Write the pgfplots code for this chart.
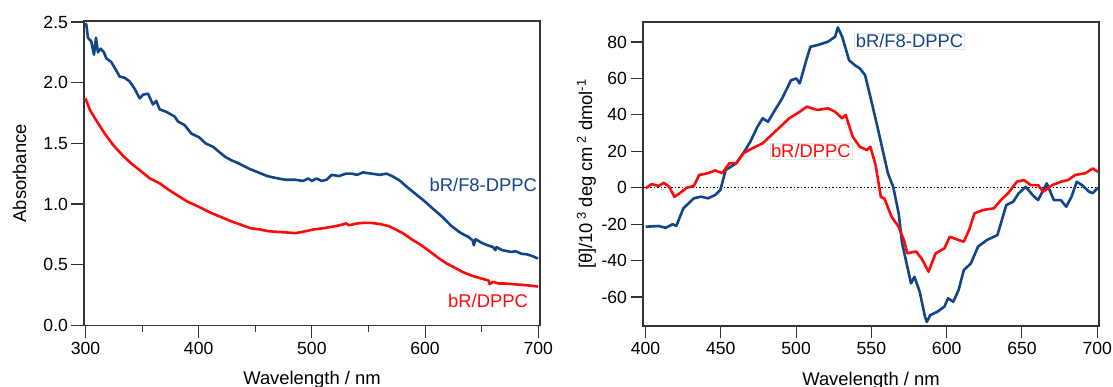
\documentclass[border=0pt]{standalone}
\usepackage{fontspec}
\setmainfont{Liberation Sans}
\usepackage{pgfplots}
\pgfplotsset{compat=1.18}
\definecolor{cblue}{RGB}{18,68,136}
\definecolor{cred}{RGB}{255,10,10}
\begin{document}
\begin{tikzpicture}
\path[use as bounding box] (0pt,0pt) rectangle (1113pt,387pt);
\pgfplotsset{
  myaxis/.style={
    scale only axis,
    axis line style={black!80, line width=1.1pt},
    every tick/.style={black!80, line width=1.1pt},
    tick align=outside,
    xtick pos=left, ytick pos=left,
    major tick length=12.5pt,
    minor tick length=6.5pt,
    /pgf/number format/assume math mode=true,
    tick label style={font=\fontsize{17.6}{20}\selectfont},
    label style={font=\fontsize{18.4}{21}\selectfont},
    xlabel style={at={(axis description cs:0.5,0)}, anchor=base, yshift=-59.3pt},
    every axis plot/.append style={line join=round},
  }
}
% Left: absorbance
\begin{axis}[myaxis,
  at={(84pt,61.3pt)}, anchor=south west,
  width=456pt, height=304.7pt,
  xmin=298.7, xmax=701.5, ymin=-0.003, ymax=2.508,
  xtick={300,400,500,600,700}, minor xtick={350,450,550,650},
  ytick={0,0.5,1,1.5,2,2.5},
  yticklabel style={/pgf/number format/.cd, fixed, fixed zerofill, precision=1},
  xlabel={Wavelength / nm},
  ylabel={Absorbance},
  ylabel style={at={(axis description cs:-0.1412,0.5)}, anchor=center},
]
\addplot[cblue, line width=2.6pt] coordinates {
(300,2.49)(300.7,2.48)(302.2,2.37)(305.1,2.34)(307.5,2.23)(309.3,2.37)(311,2.25)(313.4,2.28)(316.3,2.25)(318.4,2.20)(322.8,2.17)(327.2,2.10)(330.2,2.05)(334.6,2.04)(339,2.01)(343.4,1.95)(347.9,1.87)(350.8,1.90)(355.2,1.91)(359.6,1.82)(362.5,1.85)(365.5,1.78)(371.4,1.76)(378.8,1.72)(381.7,1.68)(387.6,1.65)(393.5,1.58)(400.4,1.55)(406,1.50)(413,1.47)(418,1.43)(423.2,1.39)(428.9,1.36)(435,1.336)(444.7,1.29)(452.7,1.26)(460.6,1.23)(470.3,1.21)(476.4,1.20)(485.1,1.20)(492.2,1.19)(496.8,1.21)(500,1.19)(504,1.21)(508.7,1.19)(513,1.20)(517.5,1.24)(524,1.23)(530,1.25)(535.2,1.25)(540,1.24)(545,1.26)(552.8,1.25)(560,1.24)(566,1.25)(571.9,1.225)(578,1.19)(584,1.14)(592,1.08)(599.9,1.02)(607,0.96)(615.7,0.89)(623,0.82)(631.6,0.76)(638,0.73)(642,0.70)(643,0.66)(644.5,0.71)(650,0.68)(655,0.66)(660,0.645)(662,0.62)(663,0.645)(668,0.62)(675.9,0.605)(680,0.61)(685,0.59)(690,0.585)(695,0.57)(699.7,0.55)
};
\addplot[cred, line width=2.6pt] coordinates {
(300,1.87)(303.7,1.78)(308.1,1.71)(317,1.58)(325,1.48)(333.9,1.39)(341,1.33)(349.7,1.265)(357,1.21)(365.6,1.17)(373,1.12)(381.4,1.07)(390,1.02)(400.4,0.976)(410,0.93)(419.4,0.894)(428,0.86)(438.4,0.825)(446,0.80)(454.2,0.79)(462,0.775)(470.1,0.77)(478,0.765)(485.9,0.76)(494,0.775)(501.7,0.79)(510,0.80)(520.7,0.817)(527,0.83)(530,0.84)(533,0.825)(539.7,0.839)(546,0.845)(552.4,0.844)(560,0.835)(568.2,0.817)(574,0.79)(580.9,0.756)(588,0.71)(596.7,0.66)(604,0.61)(612.6,0.55)(619,0.51)(625.2,0.48)(633,0.44)(641.1,0.41)(650,0.385)(656,0.37)(657,0.34)(660,0.358)(665,0.345)(670,0.345)(679.1,0.338)(690,0.33)(699.7,0.32)
};
\node[cblue, anchor=east, inner sep=0pt, font=\fontsize{18.4}{21}\selectfont] at (axis cs:699,1.16) {bR/F8-DPPC};
\node[cred, anchor=east, inner sep=0pt, font=\fontsize{18.4}{21}\selectfont] at (axis cs:691,0.198) {bR/DPPC};
\end{axis}
% Right: CD
\begin{axis}[myaxis,
  at={(643pt,61pt)}, anchor=south west,
  width=456pt, height=304pt,
  xmin=398.3, xmax=701.2, ymin=-75.9, ymax=91,
  xtick={400,450,500,550,600,650,700},
  ytick={-60,-40,-20,0,20,40,60,80},
  xlabel={Wavelength / nm},
  ylabel={[θ]/10\,\textsuperscript{3} deg cm\,\textsuperscript{2} dmol\textsuperscript{-1}},
  ylabel style={at={(axis description cs:-0.1239,0.5)}, anchor=center},
]
\addplot[black, line width=1.1pt, dash pattern=on 1.5pt off 2pt] coordinates {(398.3,0)(701.2,0)};
\addplot[cblue, line width=2.6pt] coordinates {
(400,-21.4)(408.7,-21)(413.4,-22)(418,-20)(420.4,-21)(425.1,-11.3)(432.1,-5.8)(436.8,-4.9)(441.5,-5.8)(446.2,-4)(449.7,-1.2)(453.2,9.7)(460.2,13.4)(464.9,18.9)(469.6,25.3)(474.3,33.5)(477.8,38.1)(481.3,36.2)(486,42.7)(490.7,49)(496.6,59)(500.1,60)(502.4,57.3)(507.1,71)(509.5,77.4)(514.2,78.3)(521.2,80.2)(525.9,82.9)(527.7,88)(530.6,82.9)(535.2,70)(538.8,67.4)(542.3,65.5)(545.8,61.9)(549.3,50)(554,33.5)(557.5,20.7)(561,7.9)(564.5,0.5)(568.1,-14)(570.4,-30.5)(573.9,-43.4)(576.3,-52.5)(578.6,-48.9)(582.1,-57.1)(585.6,-70.8)(586.8,-73.6)(589.2,-69.9)(593.8,-68.1)(598.5,-65.3)(600.9,-60.7)(604.4,-62.6)(607.9,-56.2)(611.4,-45.2)(616.1,-41.5)(620.8,-32.4)(626.7,-28.7)(633.7,-26)(639.6,-9.5)(644.2,-7.7)(647.8,-3.1)(652.5,0.5)(657.1,-4)(660.7,-6.8)(666.5,2.4)(671.2,-6.8)(675.9,-6.8)(679.4,-10.4)(682.9,-5)(686.4,3.3)(690,1.4)(694.6,-2.2)(697,-3)(700.5,0)
};
\addplot[cred, line width=2.6pt] coordinates {
(400,-0.3)(404,2)(408.7,1)(412.2,2.7)(415.7,0.5)(419.2,-5)(422.7,-3)(427.4,0)(432.1,1)(435.6,7)(441.5,8)(446.2,9.5)(450.9,8)(455.6,13.4)(460.2,13.4)(464.9,18.9)(470.8,21.6)(477.8,24.4)(483.7,29)(489.5,33.5)(495.4,38.1)(502.4,41.7)(507.1,44.5)(514.2,42.7)(521.2,43.6)(525.9,41.7)(530.6,38.1)(532.9,40)(537.6,28)(542.3,22.5)(547,20.7)(549.3,22.5)(552.8,12.5)(556.3,-5)(558.7,-6)(563.4,-15.9)(568.1,-21.4)(571.6,-28.7)(573.9,-36)(579.8,-35)(583.3,-38.8)(588,-46.1)(592.7,-36)(598.5,-33.3)(602.1,-26.9)(607.9,-28.7)(611.4,-29.6)(614.9,-23.2)(618.5,-14)(624.3,-12.2)(631.4,-11.3)(636,-6.8)(640.7,-3.1)(646.6,3.3)(651.3,4.2)(656,1.4)(660.7,1.4)(664.2,-2.2)(670,1.4)(675.9,3.3)(680.6,4.2)(685.3,7)(692.3,8)(697,10.6)(700.5,8.7)
};
\node[cblue, anchor=west, fill=white, draw=black!10, inner sep=1.2pt, font=\fontsize{18.4}{21}\selectfont] at (axis cs:538.7,80.7) {bR/F8-DPPC};
\node[cred, anchor=west, fill=white, draw=black!10, inner sep=1.2pt, font=\fontsize{18.4}{21}\selectfont] at (axis cs:482.4,20.1) {bR/DPPC};
\end{axis}
\end{tikzpicture}
\end{document}
